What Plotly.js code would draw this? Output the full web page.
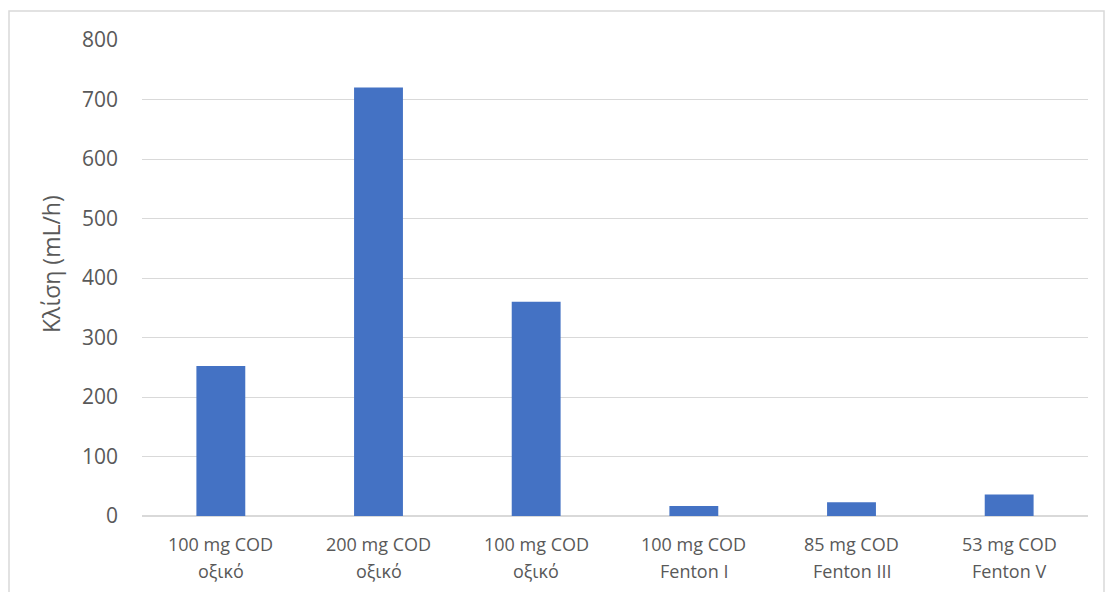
<!DOCTYPE html>
<html>
<head>
<meta charset="utf-8">
<script src="https://cdn.plot.ly/plotly-3.0.1.min.js"></script>
<style>
  html, body { margin: 0; padding: 0; background: #ffffff; }
  #chart { width: 1106px; height: 592px; }
</style>
</head>
<body>
<div id="chart"></div>
<script>
// Flow rate per sample; category labels are two lines (load / treatment)
const labelLoad = ["100 mg COD", "200 mg COD", "100 mg COD", "100 mg COD", "85 mg COD", "53 mg COD"];
const labelType = ["οξικό", "οξικό", "οξικό", "Fenton I", "Fenton III", "Fenton V"];
const flowRates = [252, 720, 360, 17, 23, 36];
const yTicks = [0, 100, 200, 300, 400, 500, 600, 700, 800];
const yTitle = "Κλίση (mL/h)";

const positions = labelLoad.map((_, i) => i);

const trace = {
  type: "bar",
  x: positions,
  y: flowRates,
  marker: { color: "#4472c4" },
  hoverinfo: "y"
};

const W = 1106, H = 592;
const m = { l: 142, r: 18, t: 40, b: 76 };
const pw = W - m.l - m.r, ph = H - m.t - m.b;
const px = v => (v - m.l) / pw;          // pixel x -> paper x
const py = v => (H - m.b - v) / ph;      // pixel y -> paper y

const grey = "#595959";
const annotations = [];
positions.forEach(i => {
  annotations.push({
    x: i, xref: "x", y: py(544), yref: "paper",
    text: labelLoad[i], showarrow: false,
    xanchor: "center", yanchor: "middle",
    font: { size: 18, color: grey }
  });
  annotations.push({
    x: i, xref: "x", y: py(571), yref: "paper",
    text: labelType[i], showarrow: false,
    xanchor: "center", yanchor: "middle",
    font: { size: 18, color: grey }
  });
});
annotations.push({
  x: px(51), xref: "paper", y: py(264), yref: "paper",
  text: yTitle, showarrow: false, textangle: -90,
  xanchor: "center", yanchor: "middle",
  font: { size: 23, color: grey }
});

const layout = {
  width: W,
  height: H,
  margin: m,
  paper_bgcolor: "#ffffff",
  plot_bgcolor: "#ffffff",
  font: { family: "Open Sans, Noto Sans, sans-serif", color: grey, size: 18 },
  bargap: 0.69,
  showlegend: false,
  xaxis: {
    range: [-0.5, positions.length - 0.5],
    showgrid: false,
    zeroline: false,
    showline: false,
    showticklabels: false,
    ticks: ""
  },
  yaxis: {
    range: [0, 800],
    tickmode: "array",
    tickvals: yTicks,
    ticktext: yTicks.map(String),
    showgrid: true,
    gridcolor: "#d9d9d9",
    gridwidth: 1,
    zeroline: true,
    zerolinecolor: "#d9d9d9",
    zerolinewidth: 1.5,
    showline: false,
    ticks: "",
    tickfont: { size: 21, color: grey },
    ticklabelstandoff: 23
  },
  annotations: annotations,
  shapes: [
    {
      // outer chart frame
      type: "rect", xref: "paper", yref: "paper",
      x0: px(9), x1: px(1104), y0: py(700), y1: py(11),
      line: { color: "#d9d9d9", width: 1.5 },
      fillcolor: "rgba(0,0,0,0)", layer: "below"
    }
  ]
};

Plotly.newPlot("chart", [trace], layout, { displayModeBar: false, staticPlot: true });
</script>
</body>
</html>
